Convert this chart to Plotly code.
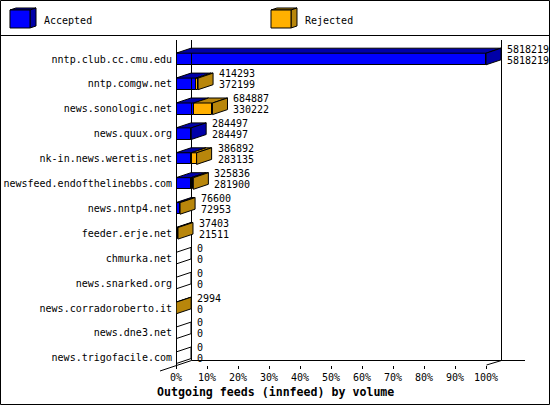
import plotly.graph_objects as go

# ---------------- data ----------------
categories = ["nntp.club.cc.cmu.edu", "nntp.comgw.net", "news.sonologic.net",
              "news.quux.org", "nk-in.news.weretis.net", "newsfeed.endofthelinebbs.com",
              "news.nntp4.net", "feeder.erje.net", "chmurka.net", "news.snarked.org",
              "news.corradoroberto.it", "news.dne3.net", "news.trigofacile.com"]
accepted = [5818219, 414293, 684887, 284497, 386892, 325836, 76600, 37403, 0, 0, 2994, 0, 0]
rejected = [5818219, 372199, 330222, 284497, 283135, 281900, 72953, 21511, 0, 0, 0, 0, 0]
tick_values = [0, 10, 20, 30, 40, 50, 60, 70, 80, 90, 100]
tick_labels = ["0%", "10%", "20%", "30%", "40%", "50%", "60%", "70%", "80%", "90%", "100%"]
title_text = "Outgoing feeds (innfeed) by volume"
series_names = ["Accepted", "Rejected"]

# ---------------- geometry / style ----------------
W, H = 550, 405
ML, MB = 176, 40            # plot area: x 176..550, y 0..365
PLOT_W, PLOT_H = W - ML, H - MB
PX_PER_PCT = 3.1
ROW_PX = 24.9
ROW0_PX = 59
DEPTH_X, DEPTH_Y = 15, 5    # 3d depth offset in px
HALF_PX = 5.8               # half height of the front face

BLUE, BLUE_D = "#0000FF", "#0000A8"
ORANGE, ORANGE_D = "#FFB000", "#B8860B"
FONT = "DejaVu Sans Mono"

dx = DEPTH_X / PX_PER_PCT
dy = -DEPTH_Y / ROW_PX
half = HALF_PX / ROW_PX
x_range = [0, PLOT_W / PX_PER_PCT]
y_range = [(PLOT_H - ROW0_PX) / ROW_PX, -ROW0_PX / ROW_PX]


def xp(px):  # page pixel -> paper x
    return (px - ML) / PLOT_W


def yp(py):  # page pixel -> paper y
    return (PLOT_H - py) / PLOT_H


def yrow(py):  # page pixel -> data y
    return (py - ROW0_PX) / ROW_PX


vmax = max(accepted)
idx = list(range(len(categories)))
total_pct = [v / vmax * 100 for v in accepted]
blue_pct = [min(r, a) / vmax * 100 for a, r in zip(accepted, rejected)]
orange_pct = [t - b for t, b in zip(total_pct, blue_pct)]

fig = go.Figure()
fig.add_trace(go.Bar(y=idx, x=blue_pct, orientation="h", width=2 * half,
                     marker=dict(color=BLUE, line=dict(color="black", width=1)),
                     name=series_names[0], hoverinfo="skip"))
fig.add_trace(go.Bar(y=idx, x=orange_pct, base=blue_pct, orientation="h", width=2 * half,
                     marker=dict(color=ORANGE, line=dict(color="black", width=1)),
                     name=series_names[1], hoverinfo="skip"))

shapes = []
annotations = []


def poly(pts, fill, ref="data"):
    d = "M " + " L ".join(f"{x:.4f},{y:.4f}" for x, y in pts) + " Z"
    s = dict(type="path", path=d, line=dict(color="black", width=1),
             fillcolor=fill if fill else "rgba(0,0,0,0)")
    if ref == "data":
        s.update(xref="x", yref="y")
    else:
        s.update(xref="paper", yref="paper")
    return s


def line(x0, y0, x1, y1):
    return dict(type="line", xref="paper", yref="paper", x0=xp(x0), y0=yp(y0),
                x1=xp(x1), y1=yp(y1), line=dict(color="black", width=1))


# walls / floor
shapes.append(line(176.5, 40, 176.5, 365))
shapes.append(line(191.5, 40, 191.5, 360.5))
shapes.append(line(501.5, 40, 501.5, 360.5))
shapes.append(line(191.5, 360.5, 525, 360.5))
shapes.append(line(160, 371, 191.5, 360.5))
shapes.append(line(486.5, 365, 501.5, 360.5))

# 3d faces for the bars
for i in idx:
    b, t = blue_pct[i], total_pct[i]
    yt, yb = i - half, i + half
    if t > 0:
        if b > 0:
            shapes.append(poly([(0, yt), (b, yt), (b + dx, yt + dy), (dx, yt + dy)], BLUE_D))
        if t > b:
            shapes.append(poly([(b, yt), (t, yt), (t + dx, yt + dy), (b + dx, yt + dy)], ORANGE_D))
        side = ORANGE_D if t > b else BLUE_D
        shapes.append(poly([(t, yt), (t, yb), (t + dx, yb + dy), (t + dx, yt + dy)], side))
    else:
        shapes.append(poly([(0, yt), (0, yb), (dx, yb + dy), (dx, yt + dy)], None))
    tx = t + dx + 4 / PX_PER_PCT
    annotations.append(dict(x=tx, y=i - 10 / ROW_PX, xref="x", yref="y", text=str(accepted[i]),
                            showarrow=False, xanchor="left", yanchor="middle",
                            font=dict(family=FONT, size=10, color="black")))
    annotations.append(dict(x=tx, y=i + 1 / ROW_PX, xref="x", yref="y", text=str(rejected[i]),
                            showarrow=False, xanchor="left", yanchor="middle",
                            font=dict(family=FONT, size=10, color="black")))

# header / frame
shapes.append(dict(type="rect", xref="paper", yref="paper", x0=xp(0.5), y0=yp(0.5),
                   x1=xp(549.5), y1=yp(404.5), line=dict(color="black", width=1)))
shapes.append(line(0, 35.5, 550, 35.5))


def cube(x, y, front, dark):
    w, h, ddx, ddy = 20, 18, 6, 2
    shapes.append(poly([(xp(x), yp(y)), (xp(x + w), yp(y)), (xp(x + w + ddx), yp(y - ddy)),
                        (xp(x + ddx), yp(y - ddy))], dark, ref="paper"))
    shapes.append(poly([(xp(x + w), yp(y)), (xp(x + w + ddx), yp(y - ddy)),
                        (xp(x + w + ddx), yp(y + h - ddy)), (xp(x + w), yp(y + h))], dark, ref="paper"))
    shapes.append(poly([(xp(x), yp(y)), (xp(x + w), yp(y)), (xp(x + w), yp(y + h)),
                        (xp(x), yp(y + h))], front, ref="paper"))


cube(10, 10, BLUE, BLUE_D)
cube(271, 10, ORANGE, ORANGE_D)
annotations.append(dict(x=xp(42), y=yp(20), xref="paper", yref="paper", text=series_names[0],
                        showarrow=False, xanchor="left", yanchor="middle",
                        font=dict(family=FONT, size=10, color="black")))
annotations.append(dict(x=xp(303), y=yp(20), xref="paper", yref="paper", text=series_names[1],
                        showarrow=False, xanchor="left", yanchor="middle",
                        font=dict(family=FONT, size=10, color="black")))
annotations.append(dict(x=xp(155), y=yp(392), xref="paper", yref="paper",
                        text="<b>" + title_text + "</b>",
                        showarrow=False, xanchor="left", yanchor="middle",
                        font=dict(family=FONT, size=11.6, color="black")))

fig.update_layout(
    width=W, height=H, margin=dict(l=ML, r=0, t=0, b=MB, pad=0),
    paper_bgcolor="white", plot_bgcolor="white",
    barmode="overlay", showlegend=False, bargap=0,
    shapes=shapes, annotations=annotations,
    xaxis=dict(range=x_range, tickvals=tick_values, ticktext=tick_labels,
               ticks="outside", ticklen=3, tickcolor="black", tickwidth=1,
               showgrid=False, zeroline=False, showline=False, fixedrange=True,
               tickfont=dict(family=FONT, size=10, color="black")),
    yaxis=dict(range=y_range, tickvals=idx, ticktext=categories, ticks="",
               showgrid=False, zeroline=False, showline=False, fixedrange=True,
               ticklabelstandoff=3,
               tickfont=dict(family=FONT, size=10, color="black")),
)

fig.write_html("out.html", include_plotlyjs=True, config={"displayModeBar": False},
               post_script="document.body.style.margin='0';")
